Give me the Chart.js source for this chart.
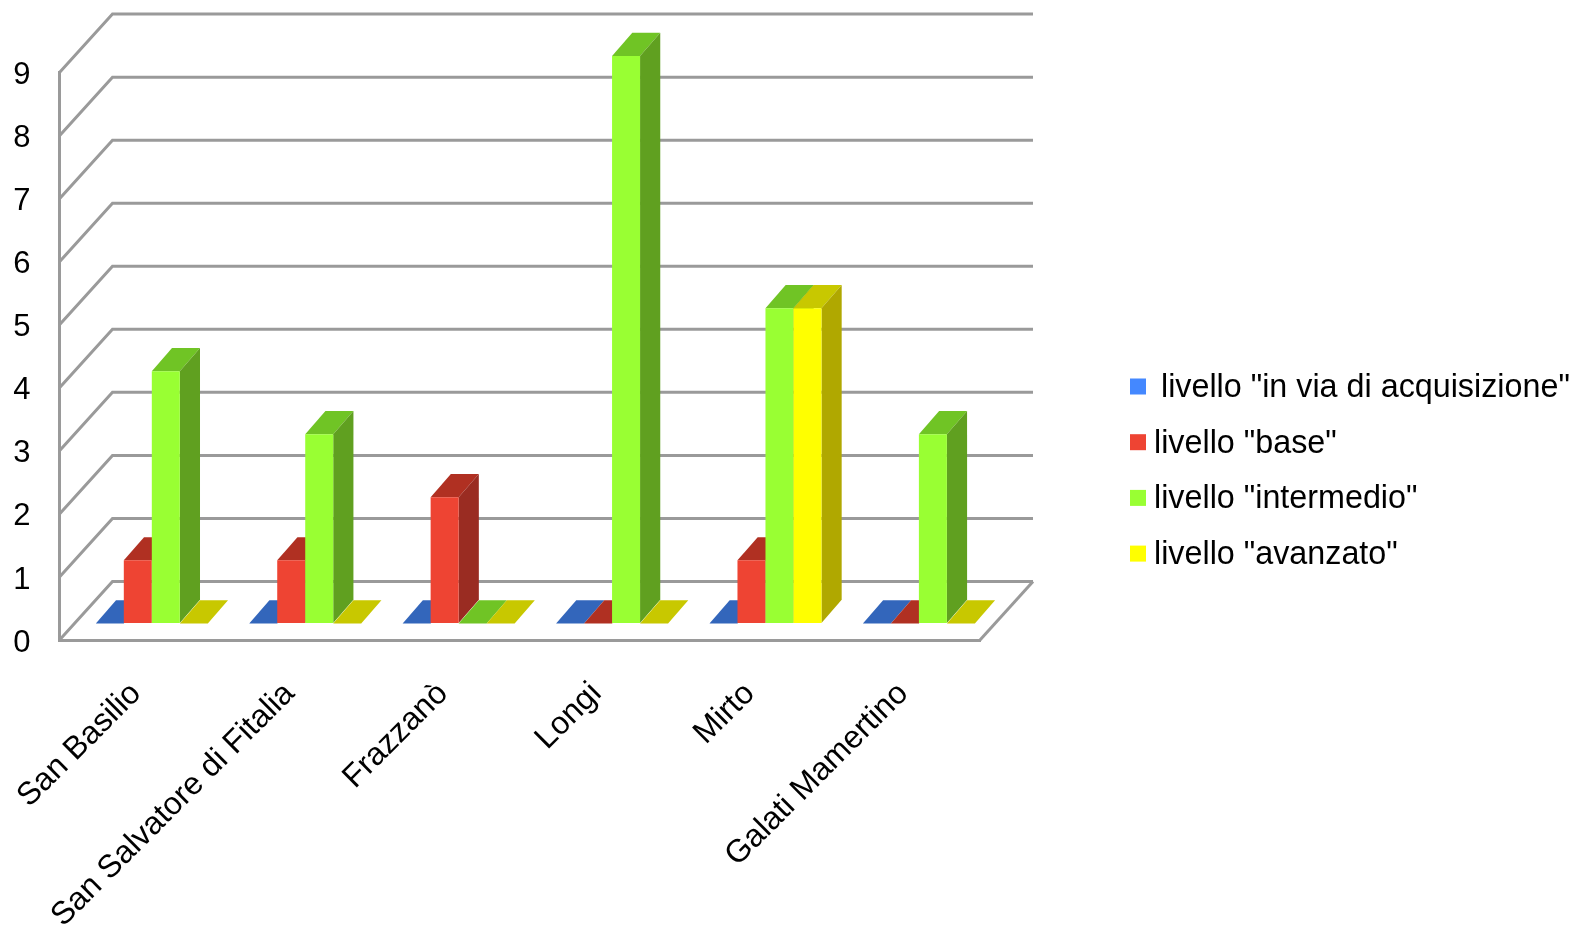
<!DOCTYPE html>
<html lang="it">
<head>
<meta charset="utf-8">
<title>Livelli per comune</title>
<script src="https://cdn.jsdelivr.net/npm/chart.js@4"></script>
<style>
  html, body { margin: 0; padding: 0; background: #fff; }
  canvas { display: block; }
</style>
</head>
<body>
<canvas id="grafico" width="1581" height="928"></canvas>
<script>
'use strict';

// ─── Dati ─────────────────────────────────────────────────────────────────────

const comuni = ['San Basilio', 'San Salvatore di Fitalia', 'Frazzanò', 'Longi', 'Mirto', 'Galati Mamertino'];
const inAcquisizione = [0, 0, 0, 0, 0, 0];
const base           = [1, 1, 2, 0, 1, 0];
const intermedio     = [4, 3, 0, 9, 5, 3];
const avanzato       = [0, 0, 0, 0, 5, 0];
const nomiLivelli = [' livello "in via di acquisizione"', 'livello "base"', 'livello "intermedio"', 'livello "avanzato"'];
const valoriAsseY = [0, 1, 2, 3, 4, 5, 6, 7, 8, 9];

// ─── Colori: fronte, faccia superiore, faccia laterale ────────────────────────

const FRONTE = ['#4488ff', '#ee4433', '#99ff33', '#ffff00'];
const SOPRA  = ['#3366bb', '#b03022', '#70c425', '#c8c800'];
const LATO   = ['#2b5599', '#9a2c22', '#60a020', '#b0a800'];
const GRIGLIA = '#9a9a9a';
const FONT = "'Liberation Sans', Arial, sans-serif";

// ─── Finta prospettiva ────────────────────────────────────────────────────────

const PARETE = { dx: 53, dy: -58.5 };      // dal piano frontale alla parete di fondo
const PIANO_BARRE = { dx: 15.6, dy: -16.6 }; // dove stanno le barre
const BARRA = { dx: 20.2, dy: -23.2 };     // spessore di ogni barra

function poligono(ctx, colore, punti) {
  ctx.fillStyle = colore;
  ctx.beginPath();
  punti.forEach(function(p, i) {
    if (i === 0) ctx.moveTo(p[0], p[1]);
    else ctx.lineTo(p[0], p[1]);
  });
  ctx.closePath();
  ctx.fill();
}

const griglia3d = {
  id: 'griglia3d',
  beforeDraw(chart) {
    const { ctx, chartArea, scales } = chart;
    ctx.save();
    ctx.strokeStyle = GRIGLIA;
    ctx.lineWidth = 3;
    valoriAsseY.forEach(function(v) {
      const y = scales.y.getPixelForValue(v);
      const yFondo = y + PARETE.dy;
      const xFondo = chartArea.left + PARETE.dx;
      ctx.beginPath();
      ctx.moveTo(chartArea.left, y);
      ctx.lineTo(xFondo, yFondo);
      ctx.lineTo(chartArea.right + PARETE.dx, yFondo);
      ctx.stroke();
    });
    // bordo destro del pavimento
    const y0 = scales.y.getPixelForValue(0);
    ctx.beginPath();
    ctx.moveTo(chartArea.right, y0);
    ctx.lineTo(chartArea.right + PARETE.dx, y0 + PARETE.dy);
    ctx.stroke();
    ctx.restore();
  },
};

const barre3d = {
  id: 'barre3d',
  // le barre vanno da sinistra a destra, cosi' la vicina copre il lato della precedente
  beforeDatasetsDraw(chart) {
    const ctx = chart.ctx;
    chart.data.datasets.forEach(function(ds, i) {
      const meta = chart.getDatasetMeta(i);
      ctx.save();
      ctx.translate(PIANO_BARRE.dx, PIANO_BARRE.dy);
      meta.data.forEach(function(bar) {
        const l = bar.x - bar.width / 2;
        const r = bar.x + bar.width / 2;
        const dx = BARRA.dx;
        const dy = BARRA.dy;
        poligono(ctx, SOPRA[i], [[l, bar.y], [l + dx, bar.y + dy], [r + dx, bar.y + dy], [r, bar.y]]);
        if (bar.base - bar.y > 0.5) {
          poligono(ctx, LATO[i], [[r, bar.y], [r + dx, bar.y + dy], [r + dx, bar.base + dy], [r, bar.base]]);
          bar.draw(ctx);
        }
      });
      ctx.restore();
    });
    return false;
  },
};

const legenda = {
  id: 'legenda',
  afterDraw(chart) {
    const ctx = chart.ctx;
    ctx.save();
    ctx.font = '32.3px ' + FONT;
    ctx.textBaseline = 'middle';
    ctx.textAlign = 'left';
    nomiLivelli.forEach(function(nome, i) {
      const y = 386.5 + i * 55.7;
      ctx.fillStyle = FRONTE[i];
      ctx.fillRect(1130, y - 8, 16, 16);
      ctx.fillStyle = '#000';
      ctx.fillText(nome, i === 0 ? 1152 : 1154, y + 1.5);
    });
    ctx.restore();
  },
};

// ─── Grafico ──────────────────────────────────────────────────────────────────

new Chart(document.getElementById('grafico').getContext('2d'), {
  type: 'bar',
  data: {
    labels: comuni,
    datasets: [inAcquisizione, base, intermedio, avanzato].map(function(valori, i) {
      return {
        label: nomiLivelli[i],
        data: valori,
        backgroundColor: FRONTE[i],
        categoryPercentage: 0.73,
        barPercentage: 1,
      };
    }),
  },
  plugins: [griglia3d, barre3d, legenda],
  options: {
    responsive: false,
    devicePixelRatio: 1,
    animation: false,
    layout: { padding: { top: 72.6, right: 601, bottom: 0, left: 0 } },
    plugins: { legend: { display: false }, tooltip: { enabled: false } },
    scales: {
      x: {
        afterFit(scale) {
          scale.height = 288;
          // senza questo l'etichetta ruotata sposta l'area del grafico
          scale.paddingLeft = 0;
          scale.paddingRight = 0;
        },
        grid: { drawOnChartArea: false, drawTicks: false },
        border: { color: GRIGLIA, width: 3 },
        ticks: {
          autoSkip: false,
          minRotation: 45,
          maxRotation: 45,
          padding: 35,
          color: '#000',
          font: { family: FONT, size: 32 },
        },
      },
      y: {
        min: 0,
        max: 9,
        afterFit(scale) { scale.width = 59.5; },
        grid: { drawOnChartArea: false, drawTicks: false },
        border: { color: GRIGLIA, width: 3 },
        ticks: {
          stepSize: 1,
          padding: 29,
          color: '#000',
          // riga vuota + lineHeight piccolo: abbassa il numero di 3px
          callback: function(v) { return ['', String(v)]; },
          font: { family: FONT, size: 31, lineHeight: '6px' },
        },
      },
    },
  },
});
</script>
</body>
</html>
